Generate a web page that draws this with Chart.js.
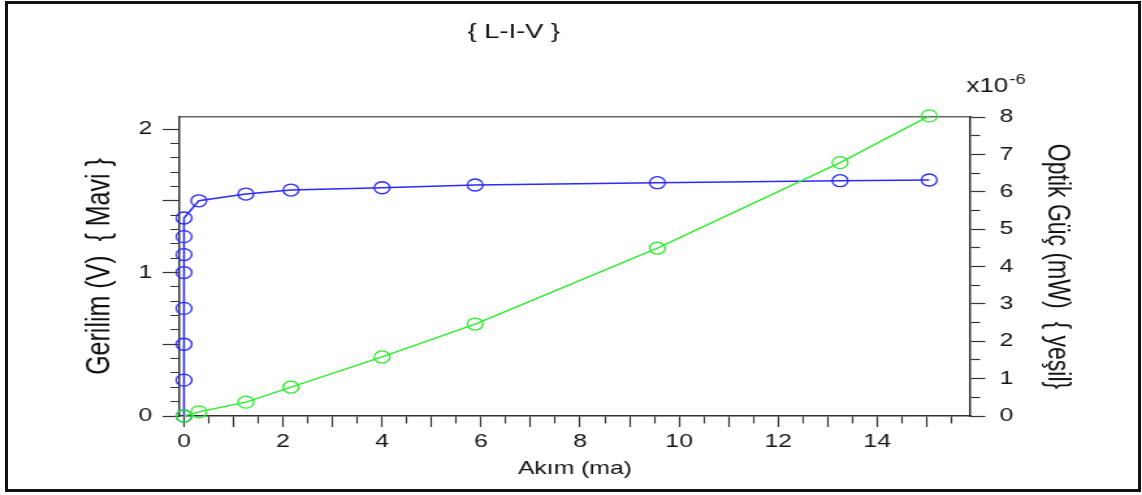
<!DOCTYPE html>
<html>
<head>
<meta charset="utf-8">
<title>L-I-V</title>
<script src="https://cdn.jsdelivr.net/npm/chart.js@4.4.1/dist/chart.umd.min.js"></script>
<style>
  html, body { margin: 0; padding: 0; background: #fff; overflow: hidden; }
  #wrap { position: relative; width: 1142px; height: 495px; }
  #frame { position: absolute; left: 5px; top: 1px; width: 1130px; height: 485px;
           border: 3px solid #111; pointer-events: none; }
</style>
</head>
<body>
<div id="wrap">
  <!-- drawn on a narrower bitmap and widened to the page width -->
  <canvas id="c" width="878" height="495" style="width:1142px;height:495px;display:block"></canvas>
  <div id="frame"></div>
</div>
<script>
// Voltage curve (blue): current in mA, voltage in V
const voltCurrent = [0, 0, 0, 0, 0, 0, 0, 0, 0.30, 1.25, 2.16, 4.00, 5.88, 9.56, 13.25, 15.05];
const voltage     = [0, 0.25, 0.50, 0.75, 1.00, 1.125, 1.25, 1.38, 1.50, 1.547, 1.575, 1.591, 1.610, 1.626, 1.640, 1.645];

// Optical power curve (green): current in mA, power in units of 1e-6 mW
const powerCurrent = [0, 0.30, 1.25, 2.16, 4.00, 5.88, 9.56, 13.25, 15.05];
const opticalPower = [0, 0.11, 0.37, 0.77, 1.58, 2.46, 4.49, 6.78, 8.03];

// Labelled tick values
const xTickLabels     = [0, 2, 4, 6, 8, 10, 12, 14];
const leftTickLabels  = [0, 1, 2];
const rightTickLabels = [0, 1, 2, 3, 4, 5, 6, 7, 8];

const chartTitle  = '{ L-I-V }';
const xTitle      = 'Akım (ma)';
const leftTitle   = 'Gerilim (V)  { Mavi }';
const rightTitle  = 'Optik Güç (mW)  { yeşil}';

const BLUE  = 'rgb(42,42,255)';
const GREEN = 'rgb(44,236,44)';
const AXIS  = '#333';
const LABEL = '#141414';
const FONT  = '"Liberation Sans", Arial, Helvetica, sans-serif';

const near = (v, list) => list.some(t => Math.abs(t - v) < 1e-6);
const isMult = (v, step) => Math.abs(v / step - Math.round(v / step)) < 1e-6;
const tickVal = ctx => (ctx && ctx.tick) ? ctx.tick.value : 0;

const pts = (xs, ys) => xs.map((x, i) => ({ x, y: ys[i] }));

// Extra texts: the title and the exponent of the right axis
const annotations = {
  id: 'annotations',
  afterDraw(chart) {
    const { ctx } = chart;
    const right = chart.scales.y1;
    ctx.save();
    ctx.fillStyle = '#111';
    ctx.textAlign = 'center';
    ctx.textBaseline = 'middle';
    ctx.font = '21px ' + FONT;
    ctx.fillText(chartTitle, 395, 32);
    ctx.textAlign = 'left';
    ctx.textBaseline = 'alphabetic';
    ctx.fillStyle = LABEL;
    ctx.font = '20px ' + FONT;
    ctx.fillText('x10', right.left - 3, 92);
    ctx.font = '14px ' + FONT;
    ctx.fillText('-6', right.left + 30, 84);
    ctx.restore();
  }
};

new Chart(document.getElementById('c'), {
  type: 'line',
  data: {
    datasets: [
      {
        label: 'Optik Güç',
        data: pts(powerCurrent, opticalPower),
        xAxisID: 'x', yAxisID: 'y1',
        borderColor: GREEN, borderWidth: 1.4,
        pointStyle: 'circle', pointRadius: 6, pointBorderWidth: 1.3,
        pointBorderColor: GREEN, pointBackgroundColor: 'rgba(0,0,0,0)',
        tension: 0, clip: false, order: 0
      },
      {
        label: 'Gerilim',
        data: pts(voltCurrent, voltage),
        xAxisID: 'x', yAxisID: 'y',
        borderColor: BLUE, borderWidth: 1.5,
        pointStyle: 'circle', pointRadius: 6, pointBorderWidth: 1.3,
        pointBorderColor: BLUE, pointBackgroundColor: 'rgba(0,0,0,0)',
        tension: 0, clip: false, order: 1
      }
    ]
  },
  options: {
    responsive: false,
    animation: false,
    devicePixelRatio: 1,
    layout: { padding: { top: 117, left: 0, right: 0, bottom: 0 } },
    plugins: { legend: { display: false }, tooltip: { enabled: false }, title: { display: false } },
    scales: {
      x: {
        type: 'linear', position: 'bottom',
        min: -0.09, max: 15.88,
        afterFit: s => { s.height = 79; },
        border: { display: true, color: AXIS, width: 1.5 },
        grid: {
          drawOnChartArea: false, drawTicks: true, tickLength: 11,
          tickColor: AXIS, tickWidth: 1.2,
          tickBorderDash: c => isMult(tickVal(c), 1) ? [] : [7, 100]
        },
        ticks: {
          stepSize: 0.5, includeBounds: false, autoSkip: false, maxRotation: 0,
          padding: 3, color: LABEL, font: { family: FONT, size: 19 },
          callback: v => near(v, xTickLabels) ? String(Math.round(v)) : ''
        },
        title: {
          display: true, text: xTitle, color: '#111',
          font: { family: FONT, size: 19 }, padding: { top: 0, bottom: 15 }
        }
      },
      xTop: {
        type: 'linear', position: 'top',
        min: -0.09, max: 15.88,
        afterFit: s => { s.height = 0; },
        border: { display: true, color: '#666', width: 1.5 },
        grid: { display: false },
        ticks: { display: false }
      },
      y: {
        type: 'linear', position: 'left',
        min: 0, max: 2.084,
        afterFit: s => { s.width = 138; },
        border: { display: true, color: AXIS, width: 1.5 },
        grid: {
          drawOnChartArea: false, drawTicks: true, tickLength: 13,
          tickColor: AXIS, tickWidth: 1.2,
          tickBorderDash: c => isMult(tickVal(c), 0.5) ? [] : [0, 6, 7, 100]
        },
        ticks: {
          stepSize: 0.1, includeBounds: false, autoSkip: false,
          padding: 8, color: LABEL, font: { family: FONT, size: 19 },
          callback: v => near(v, leftTickLabels) ? String(Math.round(v)) : ''
        },
        title: {
          display: true, text: leftTitle, color: '#111',
          font: { family: FONT, size: 25 }, padding: { top: 62, bottom: 0 }
        }
      },
      y1: {
        type: 'linear', position: 'right',
        min: 0, max: 8,
        afterFit: s => { s.width = 132; },
        border: { display: true, color: AXIS, width: 1.5 },
        grid: {
          drawOnChartArea: false, drawTicks: true, tickLength: 11.5,
          tickColor: AXIS, tickWidth: 1.2,
          tickBorderDash: c => isMult(tickVal(c), 1) ? [] : [7, 100]
        },
        ticks: {
          stepSize: 0.5, includeBounds: false, autoSkip: false,
          padding: 11, color: LABEL, font: { family: FONT, size: 19 },
          callback: v => near(v, rightTickLabels) ? String(Math.round(v)) : ''
        },
        title: {
          display: true, text: rightTitle, color: '#111',
          font: { family: FONT, size: 23 }, padding: { top: 52, bottom: 0 }
        }
      }
    }
  },
  plugins: [annotations]
});
</script>
</body>
</html>
